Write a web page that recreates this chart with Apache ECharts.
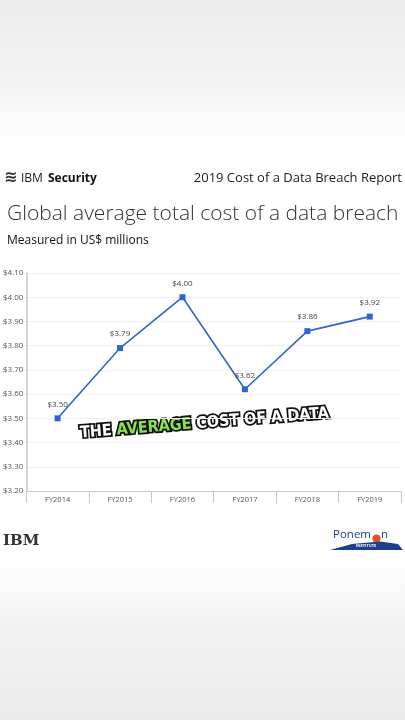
<!DOCTYPE html>
<html><head><meta charset="utf-8">
<script src="https://cdn.jsdelivr.net/npm/echarts@6/dist/echarts.min.js"></script>
<style>html,body{margin:0;padding:0;}#c{width:405px;height:720px;}</style>
</head><body><div id="c"></div>
<script>
const categories = ['FY2014','FY2015','FY2016','FY2017','FY2018','FY2019'];
const costValues = [3.50, 3.79, 4.00, 3.62, 3.86, 3.92];
const yTicks = [3.2, 3.3, 3.4, 3.5, 3.6, 3.7, 3.8, 3.9, 4.0, 4.1];

const chart = echarts.init(document.getElementById('c'));
const font = '"Open Sans", "Noto Sans", sans-serif';
chart.setOption({
  backgroundColor: {
    type: 'linear', x: 0, y: 0, x2: 0, y2: 1,
    colorStops: [
      {offset: 0, color: '#ececec'},
      {offset: 0.12, color: '#f4f4f4'},
      {offset: 0.2, color: '#ffffff'},
      {offset: 0.78, color: '#ffffff'},
      {offset: 0.86, color: '#f3f3f3'},
      {offset: 1, color: '#ebebeb'}
    ]
  },
  animation: false,
  textStyle: {fontFamily: font},
  grid: {left: 26, right: 4, top: 273, bottom: 229},
  xAxis: {
    type: 'category', data: categories, boundaryGap: true,
    axisLine: {lineStyle: {color: '#c8c8c8', width: 1}},
    axisTick: {show: true, length: 12, lineStyle: {color: '#c8c8c8'}},
    axisLabel: {color: '#555', fontSize: 7.5, margin: 5, fontFamily: font}
  },
  yAxis: {
    type: 'value', min: yTicks[0], max: yTicks[yTicks.length - 1], interval: 0.1,
    axisLine: {show: true, lineStyle: {color: '#c8c8c8', width: 1.5}},
    axisTick: {show: false},
    splitLine: {lineStyle: {color: '#f0f0f0'}},
    axisLabel: {color: '#555', fontSize: 8, margin: 3, align: 'right',
      formatter: v => '$' + v.toFixed(2)}
  },
  series: [{
    type: 'line', data: costValues,
    symbol: 'rect', symbolSize: 6,
    lineStyle: {color: '#2f66cc', width: 1.6},
    itemStyle: {color: '#2f66cc'},
    label: {show: true, position: 'top', distance: 7, color: '#444', fontSize: 8,
      formatter: p => '$' + p.value.toFixed(2)}
  }],
  graphic: [
    {type: 'text', left: 21, top: 173, style: {text: 'IBM', font: '500 12px "Open Sans", sans-serif', fill: '#222'}},
    {type: 'text', left: 48, top: 173, style: {text: 'Security', font: '700 12px "Open Sans", sans-serif', fill: '#111'}},
    {type: 'text', left: 4, top: 170, style: {text: '≋', font: '700 16px "DejaVu Sans", sans-serif', fill: '#333'}},
    {type: 'text', right: 3, top: 172, style: {text: '2019 Cost of a Data Breach Report', font: '400 13px "Open Sans", sans-serif', fill: '#222'}},
    {type: 'text', left: 7, top: 204, style: {text: 'Global average total cost of a data breach', font: '300 21px "Open Sans", sans-serif', fill: '#333'}},
    {type: 'text', left: 7, top: 235, style: {text: 'Measured in US$ millions', font: '400 12px "Open Sans", sans-serif', fill: '#111'}},
    {type: 'text', left: 3, top: 534, style: {text: 'IBM', font: '900 15px "DejaVu Serif", serif', fill: '#333'}},
    {type: 'text', left: 333, top: 529, style: {text: 'Ponem', font: '400 11.5px "Open Sans", sans-serif', fill: '#1c3f8a'}},
    {type: 'circle', shape: {cx: 376.5, cy: 538.5, r: 4}, style: {fill: '#e2541c'}},
    {type: 'text', left: 381, top: 529, style: {text: 'n', font: '400 11.5px "Open Sans", sans-serif', fill: '#1c3f8a'}},
    {type: 'polygon', shape: {points: [[330, 550], [352, 544], [380, 541.5], [398, 544], [403, 550]]}, style: {fill: '#1d3f8f'}},
    {type: 'text', left: 356, top: 543.5, style: {text: 'INSTITUTE', font: '700 4px "Open Sans", sans-serif', fill: '#ffffff'}},
    {type: 'text', x: 113, y: 415, rotation: 0.08, originX: 113, originY: 424,
      style: {
        text: '{w|THE }{g|AVERAGE}{w| COST OF A DATA}',
        align: 'left', verticalAlign: 'top',
        rich: {
          w: {fontFamily: '"DejaVu Sans Condensed", "DejaVu Sans", sans-serif', fontWeight: 900, fontSize: 16, fill: '#ffffff', stroke: '#111', lineWidth: 3.5},
          g: {fontFamily: '"DejaVu Sans Condensed", "DejaVu Sans", sans-serif', fontWeight: 900, fontSize: 16, fill: '#86e34c', stroke: '#111', lineWidth: 3.5}
        }
      }}
  ]
});
</script></body></html>
